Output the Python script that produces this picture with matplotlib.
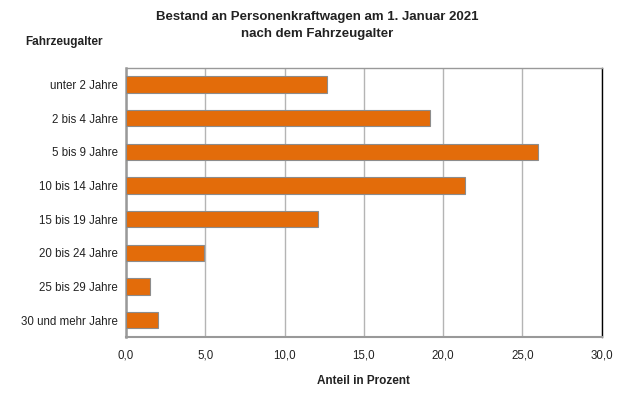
import matplotlib

matplotlib.use("Agg")
import matplotlib.pyplot as plt
from matplotlib.ticker import FuncFormatter

plt.rcParams["font.family"] = ["Liberation Sans", "DejaVu Sans"]

CATEGORIES = [
    "unter 2 Jahre",
    "2 bis 4 Jahre",
    "5 bis 9 Jahre",
    "10 bis 14 Jahre",
    "15 bis 19 Jahre",
    "20 bis 24 Jahre",
    "25 bis 29 Jahre",
    "30 und mehr Jahre",
]
SHARES = [12.7, 19.2, 26.0, 21.4, 12.1, 4.9, 1.5, 2.0]
X_TICKS = [0, 5, 10, 15, 20, 25, 30]

TITLE = "Bestand an Personenkraftwagen am 1. Januar 2021\nnach dem Fahrzeugalter"
Y_HEADER = "Fahrzeugalter"
X_LABEL = "Anteil in Prozent"

BAR_COLOR = "#e36c0a"
EDGE_COLOR = "#8c8c8c"
GRID_COLOR = "#b4b4b4"
TEXT_COLOR = "#222222"


def main() -> None:
    figure = plt.figure(figsize=(6.4, 3.94), dpi=100)
    axis = figure.add_axes([0.197, 0.145, 0.743, 0.683])

    positions = list(range(len(CATEGORIES)))
    axis.barh(
        positions,
        SHARES,
        height=0.49,
        color=BAR_COLOR,
        edgecolor=EDGE_COLOR,
        linewidth=0.8,
        zorder=3,
    )
    axis.set_ylim(len(CATEGORIES) - 0.5, -0.5)
    axis.set_yticks(positions)
    axis.set_yticklabels(CATEGORIES)

    axis.set_xlim(X_TICKS[0], X_TICKS[-1])
    axis.set_xticks(X_TICKS)
    axis.xaxis.set_major_formatter(
        FuncFormatter(lambda value, _: f"{value:.1f}".replace(".", ","))
    )
    axis.grid(axis="x", color=GRID_COLOR, linewidth=1.0, zorder=0)
    axis.tick_params(length=0, labelsize=8.3, colors=TEXT_COLOR, pad=6)
    axis.tick_params(axis="x", pad=9)

    for name in ("left", "bottom", "top"):
        axis.spines[name].set_color("#999999")
    axis.spines["left"].set_linewidth(1.8)
    axis.spines["bottom"].set_linewidth(1.5)
    axis.spines["top"].set_linewidth(1.0)
    axis.spines["right"].set_color("#000000")
    axis.spines["right"].set_linewidth(1.0)

    axis.set_xlabel(X_LABEL, fontsize=8.5, fontweight="bold", color=TEXT_COLOR, labelpad=10)

    figure.text(
        0.495, 0.972, TITLE,
        ha="center", va="top", fontsize=9.5, fontweight="bold",
        color=TEXT_COLOR, linespacing=1.55,
    )
    figure.text(
        0.04, 0.893, Y_HEADER,
        ha="left", va="center", fontsize=8.5, fontweight="bold", color=TEXT_COLOR,
    )

    figure.savefig("out.png", dpi=100)
    plt.close(figure)


if __name__ == "__main__":
    main()
